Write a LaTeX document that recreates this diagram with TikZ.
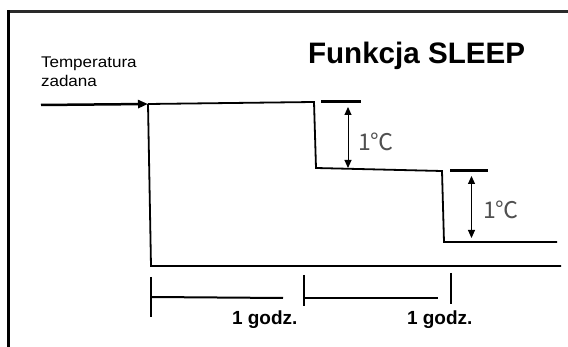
\documentclass[tikz,border=0pt]{standalone}
\usepackage{fontspec}
\setmainfont{Liberation Sans}
\newfontfamily\cjkfont{Noto Sans CJK SC}
\usetikzlibrary{arrows.meta}
\definecolor{framegray}{HTML}{2A2A2A}
\definecolor{labelgray}{HTML}{505050}
\tikzset{
  frameline/.style={line width=3pt},
  curve/.style={line width=1.8pt, line join=miter},
  dimbar/.style={line width=3pt},
  dimarrow/.style={line width=1pt, {Triangle[length=8pt,width=7pt]}-{Triangle[length=8pt,width=7pt]}},
  tick/.style={line width=2.5pt},
  span/.style={line width=2pt},
  plain/.style={inner sep=0pt, outer sep=0pt},
  inlabel/.style={plain, anchor=base west, font=\fontsize{15.5}{18.8}\selectfont},
  degree/.style={plain, anchor=west, text=labelgray, font=\cjkfont\fontsize{23}{24}\selectfont},
  hour/.style={plain, anchor=base west, font=\bfseries\fontsize{19}{21}\selectfont},
}
\begin{document}
\begin{tikzpicture}[x=1pt,y=-1pt]
\useasboundingbox (0,0) rectangle (568,347);
% frame
\draw[frameline, framegray] (8,12) -- (568,12);
\draw[frameline] (8,10.5) -- (8,347);
% title and input label
\node[plain, anchor=base west, font=\bfseries\fontsize{29.6}{32}\selectfont] (title) at (308,64) {Funkcja SLEEP};
\node[inlabel] (setp1) at (41,67.7) {\scalebox{1.1}[1]{Temperatura}};
\node[inlabel] (setp2) at (41,86.3) {\scalebox{1.1}[1]{zadana}};
% coordinates of the temperature curve
\coordinate (in) at (41,105);
\coordinate (s0) at (148,104);
\coordinate (s1) at (314,102);
\coordinate (s2) at (316,168);
\coordinate (s3) at (442,171);
\coordinate (s4) at (444,242);
\coordinate (s5) at (557,242);
\coordinate (b0) at (151,266);
\coordinate (b1) at (561,266);
% input arrow
\draw[line width=2.5pt, -{Triangle[length=10pt,width=8pt]}] (in) -- (s0);
% curve
\draw[curve] (s0) -- (s1) -- (s2) -- (s3) -- (s4) -- (s5);
\draw[curve] (s0) -- (b0) -- (b1);
% first 1 degree step
\draw[dimbar] (321,102) -- (361,102);
\coordinate (a1t) at (348,107);
\coordinate (a1b) at (348,168);
\draw[dimarrow] (a1t) -- (a1b);
\node[degree] (d1) at (358,142) {1℃};
% second 1 degree step
\draw[dimbar] (450,171) -- (488,171);
\coordinate (a2t) at (471.5,176);
\coordinate (a2b) at (471.5,238);
\draw[dimarrow] (a2t) -- (a2b);
\node[degree] (d2) at (483,210) {1℃};
% time spans
\draw[tick] (151,277) -- (151,317);
\draw[span] (151,297) -- (283,298);
\node[hour] (h1) at (232,325) {1 godz.};
\draw[tick] (304,275) -- (304,306);
\draw[span] (304,298) -- (438,298);
\draw[tick] (451,273) -- (451,304);
\node[hour] (h2) at (407,325) {1 godz.};
\end{tikzpicture}
\end{document}
